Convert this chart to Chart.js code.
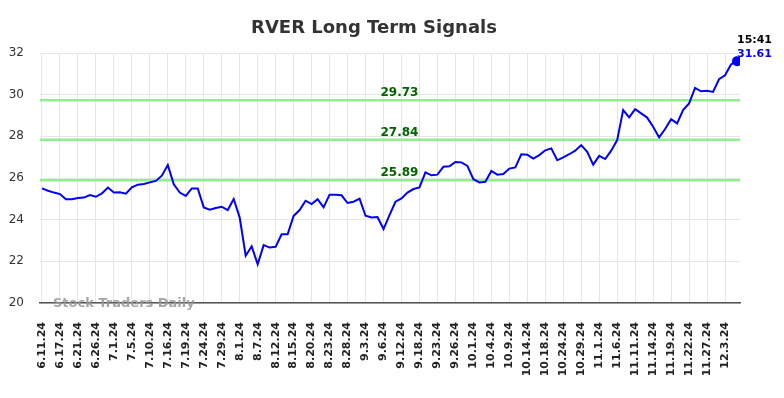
<!DOCTYPE html>
<html>
<head>
<meta charset="utf-8">
<title>RVER Long Term Signals</title>
<script src="https://cdn.jsdelivr.net/npm/chart.js@4.4.1/dist/chart.umd.min.js"></script>
<style>
    body { margin: 0; background: #fff; }
    canvas { display: block; }
</style>
</head>
<body>
<canvas id="chart" width="784" height="398"></canvas>
<script>
// Tick labels (one every 3 points)
const tickLabels = [
    '6.11.24', '6.17.24', '6.21.24', '6.26.24', '7.1.24', '7.5.24', '7.10.24', '7.16.24',
    '7.19.24', '7.24.24', '7.29.24', '8.1.24', '8.7.24', '8.12.24', '8.15.24', '8.20.24',
    '8.23.24', '8.28.24', '9.3.24', '9.6.24', '9.12.24', '9.18.24', '9.23.24', '9.26.24',
    '10.1.24', '10.4.24', '10.9.24', '10.14.24', '10.18.24', '10.24.24', '10.29.24', '11.1.24',
    '11.6.24', '11.11.24', '11.14.24', '11.19.24', '11.22.24', '11.27.24', '12.3.24'
];
const tickStep = 3;

// Closing prices
const prices = [
    25.50, 25.39, 25.30, 25.23, 24.98, 24.98, 25.04, 25.06, 25.18, 25.10,
    25.26, 25.54, 25.30, 25.31, 25.25, 25.55, 25.68, 25.71, 25.79, 25.86,
    26.11, 26.62, 25.70, 25.30, 25.14, 25.50, 25.50, 24.59, 24.48, 24.56,
    24.62, 24.46, 24.99, 24.10, 22.27, 22.72, 21.86, 22.78, 22.66, 22.70,
    23.30, 23.30, 24.18, 24.46, 24.91, 24.75, 24.98, 24.59, 25.20, 25.20,
    25.17, 24.80, 24.86, 25.01, 24.19, 24.11, 24.13, 23.55, 24.22, 24.86,
    25.02, 25.30, 25.47, 25.55, 26.27, 26.13, 26.16, 26.54, 26.56, 26.77,
    26.75, 26.58, 25.94, 25.79, 25.82, 26.34, 26.16, 26.19, 26.45, 26.51,
    27.14, 27.12, 26.93, 27.10, 27.33, 27.42, 26.85, 26.99, 27.14, 27.31,
    27.58, 27.26, 26.64, 27.06, 26.91, 27.31, 27.82, 29.26, 28.91, 29.30,
    29.10, 28.90, 28.46, 27.95, 28.35, 28.82, 28.62, 29.26, 29.58, 30.32,
    30.16, 30.19, 30.13, 30.74, 30.93, 31.45, 31.61
];

// Signal levels
const signalLevels = [29.73, 27.84, 25.89];
const yTicks = [20, 22, 24, 26, 28, 30, 32];
const lastTime = '15:41';

const FONT = 'DejaVu Sans';

// Green signal lines go under the price line
const signalLines = {
    id: 'signalLines',
    beforeDatasetsDraw(chart) {
        const { ctx, chartArea, scales } = chart;
        ctx.save();
        ctx.strokeStyle = '#90ee90';
        ctx.lineWidth = 2.5;
        ctx.fillStyle = '#006400';
        ctx.font = 'bold 12px ' + FONT;
        ctx.textBaseline = 'alphabetic';
        signalLevels.forEach(level => {
            const y = scales.y.getPixelForValue(level);
            ctx.beginPath();
            ctx.moveTo(chartArea.left, y);
            ctx.lineTo(chartArea.right, y);
            ctx.stroke();
            ctx.fillText(level.toFixed(2), 380.5, y - 4);
        });
        ctx.restore();
    },
    afterDraw(chart) {
        const { ctx, scales } = chart;
        ctx.save();
        // Title
        ctx.fillStyle = '#333';
        ctx.font = 'bold 18px ' + FONT;
        ctx.textAlign = 'center';
        ctx.fillText('RVER Long Term Signals', 374, 33);

        // Watermark
        ctx.textAlign = 'left';
        ctx.fillStyle = 'rgba(150,150,150,0.85)';
        ctx.font = 'bold 13px ' + FONT;
        ctx.fillText('Stock Traders Daily', 53, 307);

        // Last value
        const last = prices.length - 1;
        const x = scales.x.getPixelForValue(last);
        ctx.font = 'bold 11px ' + FONT;
        ctx.fillStyle = '#000';
        ctx.fillText(lastTime, x, 43);
        ctx.fillStyle = '#0000ff';
        ctx.fillText(prices[last].toFixed(2), x, 57);
        ctx.restore();
    }
};

new Chart(document.getElementById('chart'), {
    type: 'line',
    data: {
        datasets: [{
            data: prices.map((v, i) => ({ x: i, y: v })),
            borderColor: '#0000ff',
            backgroundColor: '#0000ff',
            borderWidth: 2,
            tension: 0,
            pointRadius: ctx => ctx.dataIndex === prices.length - 1 ? 4 : 0,
            pointHoverRadius: 0
        }]
    },
    options: {
        responsive: false,
        animation: false,
        layout: { padding: { top: 53, right: 44, left: 0, bottom: 0 } },
        plugins: {
            legend: { display: false },
            title: { display: false },
            tooltip: { enabled: false }
        },
        scales: {
            x: {
                type: 'linear',
                min: -0.33,
                max: 116.5,
                afterBuildTicks: axis => {
                    axis.ticks = tickLabels.map((_, k) => ({ value: k * tickStep }));
                },
                afterFit: axis => { axis.height = 95; },
                ticks: {
                    autoSkip: false,
                    minRotation: 90,
                    maxRotation: 90,
                    padding: 19,
                    color: '#222',
                    font: { family: FONT, size: 11, weight: 'bold' },
                    callback: (value, index) => tickLabels[index]
                },
                grid: { color: '#e6e6e6', drawTicks: false },
                border: { display: true, color: '#555', width: 1.5 }
            },
            y: {
                min: 20,
                max: 32,
                afterBuildTicks: axis => {
                    axis.ticks = yTicks.map(v => ({ value: v }));
                },
                afterFit: axis => { axis.width = 40; },
                ticks: {
                    padding: 16,
                    color: '#333',
                    font: { family: FONT, size: 12 }
                },
                grid: { color: '#e6e6e6', drawTicks: false },
                border: { display: false }
            }
        }
    },
    plugins: [signalLines]
});
</script>
</body>
</html>
